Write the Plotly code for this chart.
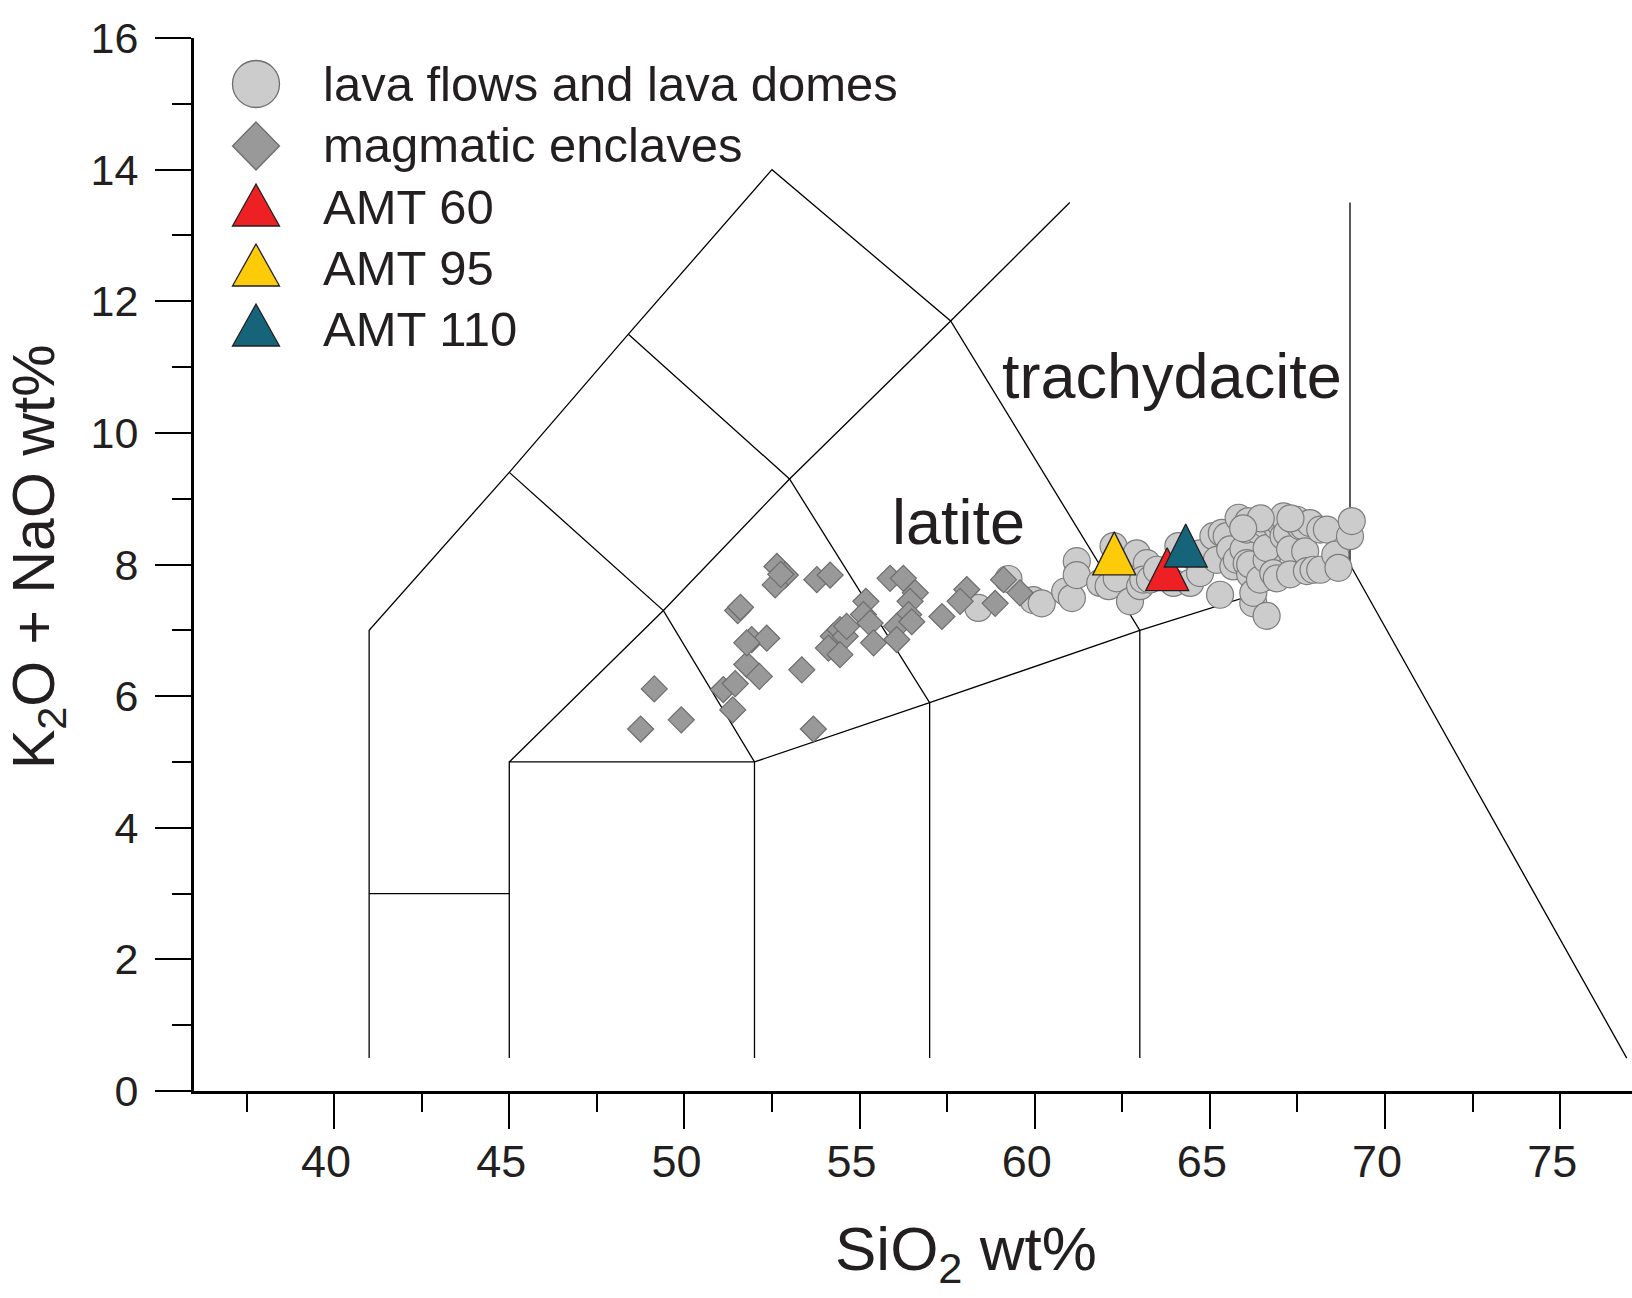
import plotly.graph_objects as go

FONT = "Liberation Sans, Arial, Helvetica, sans-serif"
TXT = "#231f20"

# ---------------- data ----------------
# TAS field boundaries (SiO2, Na2O+K2O), None separates polylines
tas_x = [41, 41, 45, 48.4, 52.5, 57.6, 63, 63, None,
         41, 45, None,
         45, 45, 52, 57, 63, 69, 76.9, None,
         45, 49.4, 52, 52, None,
         45, 49.4, 53, 57.6, 61, None,
         48.4, 53, 57, 57, None,
         69, 69]
tas_y = [0.5, 7, 9.4, 11.5, 14, 11.7, 7, 0.5, None,
         3, 3, None,
         0.5, 5, 5, 5.9, 7, 8, 0.5, None,
         9.4, 7.3, 5, 0.5, None,
         5, 7.3, 9.3, 11.7, 13.5, None,
         11.5, 9.3, 5.9, 0.5, None,
         8, 13.5]

lava_sio2 = [58.39, 59.25, 59.96, 60.20, 60.87, 61.06, 61.20, 61.20, 61.87, 62.11,
             62.34, 62.25, 62.91, 62.72, 63.01, 63.20, 63.10, 63.29, 63.49, 63.96,
             64.10, 64.44, 64.53, 64.72, 64.72, 65.10, 65.20, 65.29, 65.34, 65.48,
             65.58, 65.67, 65.77, 65.82, 65.96, 66.05, 66.05, 66.15, 66.15, 66.24,
             66.24, 66.34, 66.43, 66.58, 66.62, 66.62, 66.62, 66.81, 66.91, 66.91,
             67.00, 67.10, 67.10, 67.20, 67.29, 67.29, 67.39, 67.48, 67.58, 67.67,
             67.72, 67.77, 67.86, 67.96, 68.15, 68.15, 68.34, 68.58, 68.67, 69.00,
             69.05, 66.10, 66.45, 67.30, 65.95]
lava_alk = [7.34, 7.78, 7.46, 7.41, 7.59, 7.49, 8.05, 7.84, 7.72, 7.67,
            7.79, 8.28, 8.17, 7.44, 7.67, 8.02, 7.77, 7.77, 7.92, 7.72,
            8.28, 7.72, 8.12, 7.87, 8.17, 8.43, 8.07, 7.54, 8.48, 8.43,
            8.23, 7.97, 8.07, 8.71, 8.23, 8.02, 8.53, 7.85, 8.00, 7.41,
            7.57, 8.53, 7.77, 8.61, 7.22, 8.07, 8.25, 7.87, 7.79, 8.58,
            8.63, 8.43, 8.73, 8.48, 8.23, 7.85, 8.68, 8.68, 8.58, 8.58,
            8.20, 7.90, 8.63, 7.92, 7.92, 8.53, 8.53, 8.15, 7.95, 8.43,
            8.66, 8.66, 8.70, 8.70, 8.55]

encl_sio2 = [48.75, 49.14, 49.91, 51.52, 51.60, 51.11, 51.38, 51.45, 51.78, 52.14,
             51.92, 52.35, 51.78, 52.64, 52.88, 52.59, 52.75, 53.35, 53.78, 54.16,
             53.68, 54.25, 54.11, 54.44, 54.59, 54.44, 54.63, 55.18, 55.11, 55.30,
             55.40, 55.87, 56.25, 56.59, 56.44, 56.40, 56.06, 56.06, 56.49, 57.35,
             58.06, 57.87, 58.87, 59.11, 59.58]
encl_alk = [5.50, 6.11, 5.64, 7.30, 7.35, 6.10, 5.79, 6.19, 6.48, 6.30,
            6.86, 6.88, 6.81, 7.97, 7.84, 7.69, 7.85, 6.40, 7.77, 7.84,
            5.50, 6.91, 6.73, 7.01, 6.91, 6.63, 7.06, 7.44, 7.24, 7.11,
            6.81, 7.79, 7.79, 7.57, 7.44, 7.24, 7.06, 6.86, 7.13, 7.21,
            7.62, 7.44, 7.41, 7.77, 7.57]

amt_names = ["AMT 60", "AMT 95", "AMT 110"]
amt_sio2 = [63.78, 62.27, 64.31]
amt_alk = [7.82, 8.06, 8.18]
amt_colors = ["#ed2024", "#fdcb0a", "#156479"]

field_labels = ["trachydacite", "latite"]
field_x = [63.92, 57.81]
field_y = [10.86, 8.65]

x_ticks = [40, 45, 50, 55, 60, 65, 70, 75]
x_minor = [37.5, 42.5, 47.5, 52.5, 57.5, 62.5, 67.5, 72.5]
y_ticks = [0, 2, 4, 6, 8, 10, 12, 14, 16]
y_minor = [1, 3, 5, 7, 9, 11, 13, 15]

legend_labels = ["lava flows and lava domes", "magmatic enclaves"] + amt_names

# ---------------- figure ----------------
W, H = 1632, 1298
ML, MR, MT, MB = 194, 0, 38, 207
PW, PH = W - ML - MR, H - MT - MB

def px(fx):
    return (fx - ML) / PW

def py(fy):
    return (H - MB - fy) / PH

fig = go.Figure()

fig.add_trace(go.Scatter(x=tas_x, y=tas_y, mode="lines",
                         line=dict(color="black", width=1.3),
                         hoverinfo="skip", showlegend=False))

fig.add_trace(go.Scatter(x=lava_sio2, y=lava_alk, mode="markers",
                         name=legend_labels[0],
                         marker=dict(symbol="circle", size=27, color="#cccccc",
                                     line=dict(color="#7d7d7d", width=1.2))))

fig.add_trace(go.Scatter(x=encl_sio2, y=encl_alk, mode="markers",
                         name=legend_labels[1],
                         marker=dict(symbol="diamond", size=20, color="#999999",
                                     line=dict(color="#6d6d6d", width=1.2))))

TRI = 43
for nm, xv, yv, col in zip(amt_names, amt_sio2, amt_alk, amt_colors):
    fig.add_trace(go.Scatter(x=[xv], y=[yv], mode="markers", name=nm,
                             marker=dict(symbol="arrow-down", angle=180,
                                         standoff=TRI * 2 / 3, size=TRI,
                                         color=col,
                                         line=dict(color="#231f20", width=1.3))))

for t, xv, yv in zip(field_labels, field_x, field_y):
    fig.add_annotation(x=xv, y=yv, xref="x", yref="y", text=t, showarrow=False,
                       font=dict(family=FONT, size=63, color=TXT),
                       xanchor="center", yanchor="middle")

# ---- hand-made legend (large glyphs) ----
gx = 256
shapes = []
shapes.append(dict(type="circle", xref="paper", yref="paper",
                   x0=px(gx - 23.5), x1=px(gx + 23.5), y0=py(107.5), y1=py(60.5),
                   fillcolor="#cccccc", line=dict(color="#6d6d6d", width=1.3)))
cy = 146
shapes.append(dict(type="path", xref="paper", yref="paper",
                   path=f"M {px(gx)},{py(cy-24)} L {px(gx+23.5)},{py(cy)} L {px(gx)},{py(cy+24)} L {px(gx-23.5)},{py(cy)} Z",
                   fillcolor="#999999", line=dict(color="#6d6d6d", width=1.3)))
for (top, bot), col in zip([(184, 226), (244, 286), (304, 346)], amt_colors):
    shapes.append(dict(type="path", xref="paper", yref="paper",
                       path=f"M {px(gx-23.5)},{py(bot)} L {px(gx+23.5)},{py(bot)} L {px(gx)},{py(top)} Z",
                       fillcolor=col, line=dict(color="#231f20", width=1.3)))

leg_y = [84, 145, 207, 268, 329]
for lab, ly in zip(legend_labels, leg_y):
    fig.add_annotation(x=px(321), y=py(ly), xref="paper", yref="paper", text=lab,
                       showarrow=False, xanchor="left", yanchor="middle",
                       font=dict(family=FONT, size=49, color=TXT))

# axis titles
fig.add_annotation(x=px(966), y=py(1253), xref="paper", yref="paper",
                   text="SiO<sub>2</sub> wt%", showarrow=False,
                   xanchor="center", yanchor="middle",
                   font=dict(family=FONT, size=62, color=TXT))
fig.add_annotation(x=px(38), y=py(557), xref="paper", yref="paper",
                   text="K<sub>2</sub>O + NaO wt%", showarrow=False, textangle=-90,
                   xanchor="center", yanchor="middle",
                   font=dict(family=FONT, size=59, color=TXT))

fig.update_layout(width=W, height=H,
                  margin=dict(l=ML, r=MR, t=MT, b=MB, pad=0),
                  plot_bgcolor="white", paper_bgcolor="white",
                  showlegend=False, shapes=shapes,
                  font=dict(family=FONT, color=TXT))

fig.update_xaxes(range=[36, 77.05], tickmode="array", tickvals=x_ticks,
                 ticks="outside", ticklen=35, tickwidth=2, tickcolor="black",
                 showline=True, linewidth=3, linecolor="black",
                 showgrid=False, zeroline=False,
                 ticklabelshift=-8, ticklabelstandoff=-6,
                 tickfont=dict(family=FONT, size=45, color=TXT),
                 minor=dict(tickmode="array", tickvals=x_minor, ticks="outside",
                            ticklen=18, tickwidth=2, tickcolor="black"))
fig.update_yaxes(range=[0, 16], tickmode="array", tickvals=y_ticks,
                 ticks="outside", ticklen=36, tickwidth=2, tickcolor="black",
                 showline=True, linewidth=3, linecolor="black",
                 showgrid=False, zeroline=False,
                 ticklabelstandoff=8,
                 tickfont=dict(family=FONT, size=43, color=TXT),
                 minor=dict(tickmode="array", tickvals=y_minor, ticks="outside",
                            ticklen=19, tickwidth=2, tickcolor="black"))

fig.write_html("out.html")
